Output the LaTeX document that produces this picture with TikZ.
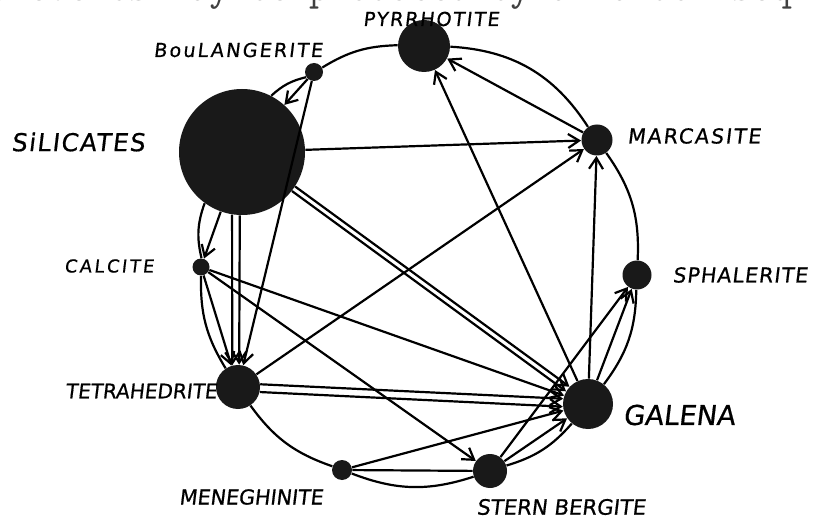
\documentclass[tikz,border=0pt]{standalone}
\usepackage{fontspec}
\newfontfamily\hand[FakeSlant=0.12,FakeBold=0.6]{DejaVu Sans}
\usetikzlibrary{arrows.meta,calc}
\begin{document}
\begin{tikzpicture}[x=0.5pt,y=0.5pt,
  blob/.style={circle,fill=black!90,draw=none,inner sep=0pt,minimum size=#1},
  ln/.style={line width=1.1pt},
  arr/.style={line width=1.1pt,-{Straight Barb[length=5.5pt,width=7pt]}},
  lab/.style 2 args={font=\hand\fontsize{#1}{#1}\selectfont\addfontfeature{LetterSpace=#2},inner sep=0pt}
]
\useasboundingbox (0,0) rectangle (819,520);
\fill[white] (0,0) rectangle (819,520);

% clipped typewritten line at the top
\node[font=\ttfamily\fontsize{19.5}{19.5}\selectfont,text=black!75,anchor=base west,inner sep=0pt] (topline) at (-12,519) {s events may be produced by a random seq};

% mineral nodes
\node[blob=26pt]   (P)  at (424,474) {};
\node[blob=15.5pt] (M)  at (597,380) {};
\node[blob=14.5pt] (Sp) at (637,245) {};
\node[blob=25pt]   (G)  at (588,116) {};
\node[blob=17pt]   (St) at (490,49)  {};
\node[blob=10pt]   (Me) at (342,50)  {};
\node[blob=22pt]   (T)  at (238,133) {};
\node[blob=8.5pt]  (Ca) at (201,253) {};
\node[blob=63pt]   (S)  at (242,368) {};
\node[blob=9pt]    (B)  at (314,448) {};

% labels
\node[lab={9.6}{9}]   (lP)  at (431,501) {PYRRHOTITE};
\node[lab={9.6}{11}]  (lB)  at (238,470) {BouLANGERITE};
\node[lab={12.3}{6}]  (lS)  at (78,378)  {SiLICATES};
\node[lab={10.3}{9}]  (lM)  at (694,384) {MARCASITE};
\node[lab={10.3}{5}]  (lSp) at (740,245) {SPHALERITE};
\node[lab={8.9}{14}]  (lCa) at (109,254) {CALCITE};
\node[lab={10}{0}]    (lT)  at (141,129) {TETRAHEDRITE};
\node[lab={10.3}{0}]  (lMe) at (251,23)  {MENEGHINITE};
\node[lab={10.6}{0}]  (lSt) at (561,13)  {STERN BERGITE};
\node[lab={13.7}{0}]  (lG)  at (679,105) {GALENA};

% ring
\draw[ln] (P)  to[bend left=27]   (M);
\draw[ln] (M)  to[bend left=19]   (Sp);
\draw[ln] (Sp) to[bend left=18]   (G);
\draw[ln] (G)  to[bend left=16]   (St);
\draw[ln] (St) to[bend left=19.5] (Me);
\draw[ln] (Me) to[bend left=17.5] (T);
\draw[ln] (T)  to[bend left=16.5] (Ca);
\draw[ln] (Ca) to[bend left=16.5] (S);
\draw[ln] (S)  to[bend left=14.5] (B);
\draw[ln] (B)  to[bend left=15]   (P);

% arrows
\draw[arr] (S) -- (M);
\draw[arr] (S.-33.3) -- (G.137.1);
\draw[arr] (S.-38.7) -- (G.150.9);
\draw[arr] (S.-99)   -- (T.105.8);
\draw[arr] (S.-92.7) -- (T.87.4);
\draw[arr] (S) -- (Ca);
\draw[arr] (B) -- (S);
\draw[arr] (B) -- (T);
\draw[arr] (Ca) -- (T);
\draw[arr] (Ca) -- (G);
\draw[arr] (Ca) -- (St);
\draw[arr] (T) -- (M);
\draw[arr] (T.7.7)   -- (G.168);
\draw[arr] (T.-13.3) -- (G.186.4);
\draw[arr] (Me) -- (G);
\draw[ln]  (Me) -- (St);
\draw[arr] (St) -- (G);
\draw[arr] (St) -- (Sp);
\draw[arr] (G) -- (Sp);
\draw[arr] (G) -- (M);
\draw[arr] (G) -- (P);
\draw[arr] (M) -- (P);
\end{tikzpicture}
\end{document}
